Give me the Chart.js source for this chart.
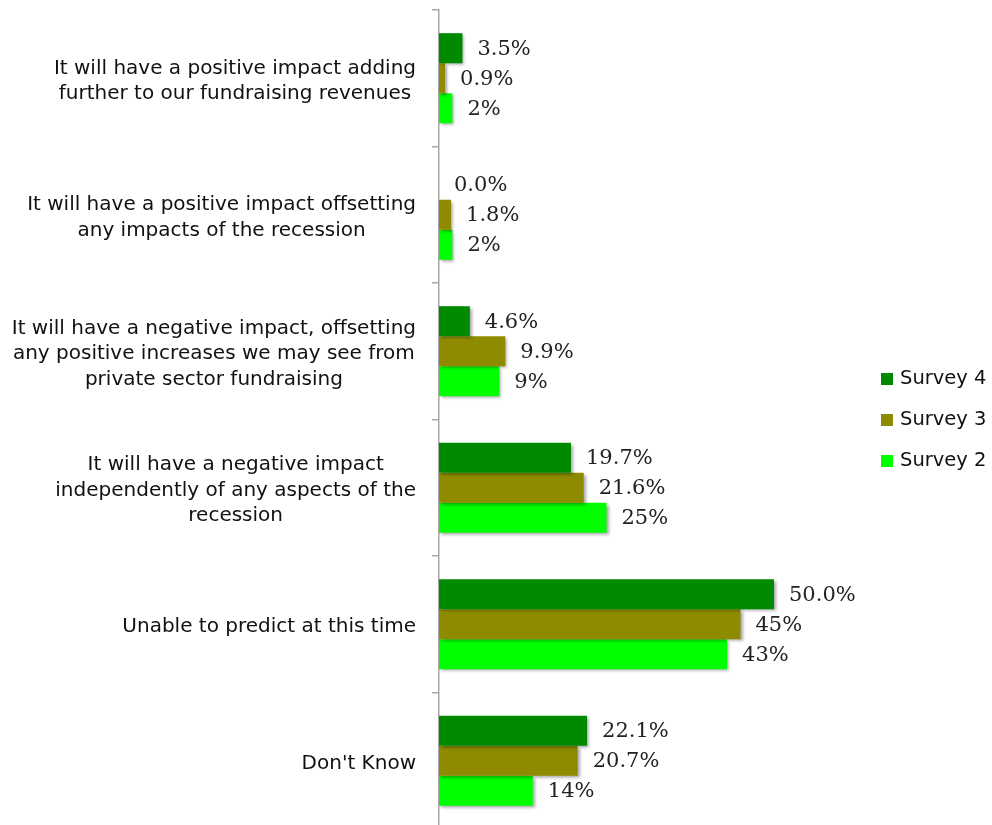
<!DOCTYPE html>
<html>
<head>
<meta charset="utf-8">
<script src="https://cdn.jsdelivr.net/npm/chart.js@4"></script>
<style>
  html, body { margin: 0; padding: 0; background: #fff; overflow: hidden; }
  #wrap { width: 992px; height: 825px; overflow: hidden; }
</style>
</head>
<body>
<div id="wrap"><canvas id="c" width="992" height="832"></canvas></div>
<script>
// Survey answers, in percent of respondents
const categories = [
  ['It will have a positive impact adding', 'further to our fundraising revenues'],
  ['It will have a positive impact offsetting', 'any impacts of the recession'],
  ['It will have a negative impact, offsetting', 'any positive increases we may see from', 'private sector fundraising'],
  ['It will have a negative impact', 'independently of any aspects of the', 'recession'],
  ['Unable to predict at this time'],
  ["Don't Know"]
];
const survey4 = [3.5, 0.0, 4.6, 19.7, 50.0, 22.1];
const survey3 = [0.9, 1.8, 9.9, 21.6, 45, 20.7];
const survey2 = [2, 2, 9, 25, 43, 14];
// decimals shown in each value label
const survey4Digits = [1, 1, 1, 1, 1, 1];
const survey3Digits = [1, 1, 1, 1, 0, 1];
const survey2Digits = [0, 0, 0, 0, 0, 0];
const seriesNames = ['Survey 4', 'Survey 3', 'Survey 2'];

const COLORS = ['#008a00', '#8f8b00', '#00ff00'];
const AXIS = '#a8a8a8';
const SANS = '"DejaVu Sans", sans-serif';
const SERIF = '"DejaVu Serif", serif';

const barShadow = {
  id: 'barShadow',
  beforeDatasetsDraw(chart) {
    const ctx = chart.ctx;
    ctx.save();
    ctx.shadowColor = 'rgba(0,0,0,0.35)';
    ctx.shadowBlur = 3;
    ctx.shadowOffsetX = 2;
    ctx.shadowOffsetY = 2;
  },
  afterDatasetsDraw(chart) { chart.ctx.restore(); }
};

const valueLabels = {
  id: 'valueLabels',
  afterDatasetsDraw(chart) {
    const ctx = chart.ctx;
    ctx.save();
    ctx.font = '21px ' + SERIF;
    ctx.fillStyle = '#222';
    ctx.textAlign = 'left';
    ctx.textBaseline = 'middle';
    chart.data.datasets.forEach((ds, di) => {
      const meta = chart.getDatasetMeta(di);
      meta.data.forEach((el, i) => {
        const txt = ds.data[i].toFixed(ds.digits[i]) + '%';
        ctx.fillText(txt, el.x + 15, el.y + 1);
      });
    });
    ctx.restore();
  }
};

// category names: each block right-aligned to the axis, lines centred within it
const categoryLabels = {
  id: 'categoryLabels',
  afterDraw(chart) {
    const ctx = chart.ctx;
    const y = chart.scales.y;
    ctx.save();
    ctx.font = '20px ' + SANS;
    ctx.fillStyle = '#111';
    ctx.textAlign = 'center';
    ctx.textBaseline = 'middle';
    const right = y.right - 23;
    const lh = 25.5;
    categories.forEach((lines, i) => {
      const cy = y.getPixelForTick(i) + 3;
      const w = Math.max(...lines.map(l => ctx.measureText(l).width));
      const cx = right - w / 2;
      const top = cy - (lines.length - 1) * lh / 2;
      lines.forEach((l, k) => ctx.fillText(l, cx, top + k * lh));
    });
    ctx.restore();
  }
};

const sideLegend = {
  id: 'sideLegend',
  afterDraw(chart) {
    const ctx = chart.ctx;
    ctx.save();
    ctx.font = '19.5px ' + SANS;
    ctx.textBaseline = 'middle';
    ctx.textAlign = 'left';
    chart.data.datasets.forEach((ds, i) => {
      const cy = 379 + i * 41;
      ctx.fillStyle = ds.backgroundColor;
      ctx.fillRect(881, cy - 6, 12, 12);
      ctx.fillStyle = '#111';
      ctx.fillText(ds.label, 900, cy);
    });
    ctx.restore();
  }
};

new Chart(document.getElementById('c'), {
  type: 'bar',
  data: {
    labels: categories,
    datasets: [
      { label: seriesNames[0], data: survey4, digits: survey4Digits, backgroundColor: COLORS[0] },
      { label: seriesNames[1], data: survey3, digits: survey3Digits, backgroundColor: COLORS[1] },
      { label: seriesNames[2], data: survey2, digits: survey2Digits, backgroundColor: COLORS[2] }
    ]
  },
  options: {
    indexAxis: 'y',
    responsive: false,
    animation: false,
    layout: { padding: { top: 10, bottom: 3, left: 0, right: 151 } },
    datasets: { bar: { categoryPercentage: 0.66, barPercentage: 1, borderWidth: 0 } },
    plugins: { legend: { display: false }, tooltip: { enabled: false } },
    scales: {
      x: { display: false, min: 0, max: 60 },
      y: {
        offset: true,
        afterFit(scale) { scale.width = 439; },
        ticks: { display: false },
        grid: {
          display: true, offset: true, drawOnChartArea: false, drawTicks: true,
          tickLength: 7, color: AXIS, lineWidth: 1.5
        },
        border: { display: true, color: AXIS, width: 1.5 }
      }
    }
  },
  plugins: [barShadow, valueLabels, categoryLabels, sideLegend]
});
</script>
</body>
</html>
